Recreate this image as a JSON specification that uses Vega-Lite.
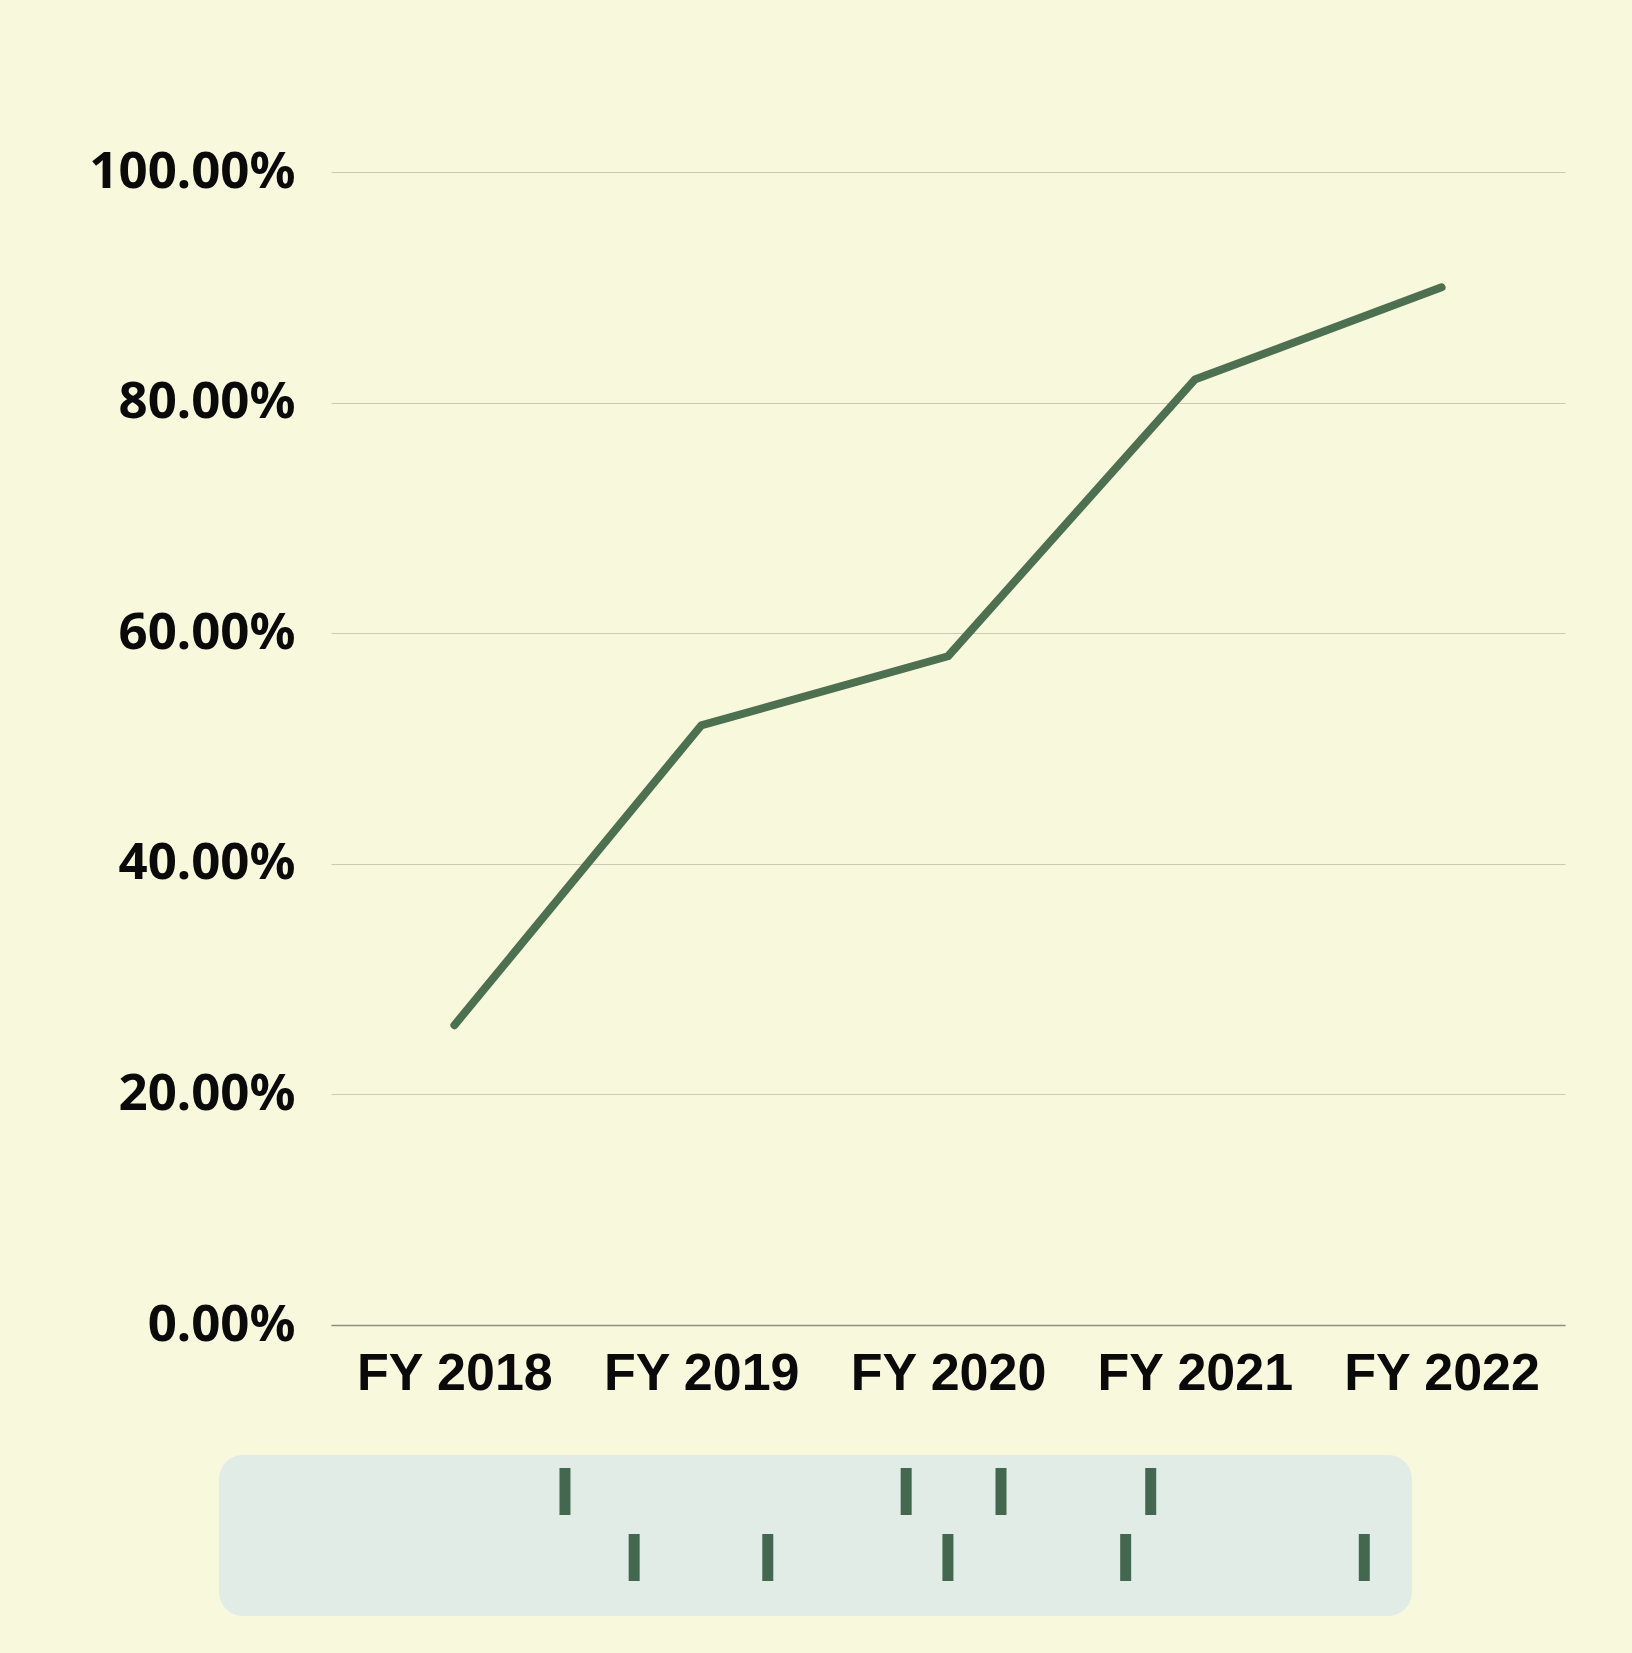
{
  "$schema": "https://vega.github.io/schema/vega-lite/v6.json",
  "background": "#F8F8DC",
  "padding": {"left": 40, "top": 146, "right": 67, "bottom": 38},
  "autosize": {"type": "pad"},
  "config": {"view": {"stroke": null}},
  "spacing": 30,
  "vconcat": [
    {
      "width": 1234,
      "height": 1153,
      "data": {"values": [
        {"year": "FY 2018", "share": 0.26},
        {"year": "FY 2019", "share": 0.52},
        {"year": "FY 2020", "share": 0.58},
        {"year": "FY 2021", "share": 0.82},
        {"year": "FY 2022", "share": 0.90}
      ]},
      "mark": {"type": "line", "color": "#4D7050", "strokeWidth": 8, "strokeCap": "round", "strokeJoin": "round"},
      "encoding": {
        "x": {
          "field": "year", "type": "ordinal", "sort": null,
          "scale": {"type": "point", "padding": 0.5},
          "axis": {
            "title": null, "labelAngle": 0, "ticks": false, "tickSize": 0,
            "labelPadding": 23, "labelBaseline": "top", "labelLimit": 0,
            "labelFont": "Liberation Sans", "labelFontSize": 52, "labelFontWeight": "bold", "labelColor": "#0A0A0A",
            "domain": true, "domainColor": "#8E8E78", "domainWidth": 1.5,
            "grid": false, "minExtent": 100, "maxExtent": 100
          }
        },
        "y": {
          "field": "share", "type": "quantitative",
          "scale": {"domain": [0, 1]},
          "axis": {
            "title": null, "values": [0, 0.2, 0.4, 0.6, 0.8, 1], "format": ".2%",
            "ticks": false, "tickSize": 0, "domain": false, "labelLimit": 0,
            "labelPadding": 36, "labelFont": "Noto Sans", "labelFontSize": 51, "labelFontWeight": "bold", "labelColor": "#0A0A0A",
            "grid": true, "gridColor": "#CBCBB2", "gridWidth": 1,
            "minExtent": 291, "maxExtent": 291
          }
        }
      }
    },
    {
      "width": 1081,
      "height": 161,
      "layer": [
        {
          "data": {"values": [{"start": 0, "end": 100}]},
          "mark": {"type": "rect", "color": "#E2ECE6", "cornerRadius": 24, "opacity": 1},
          "encoding": {
            "x": {"field": "start", "type": "quantitative", "scale": {"domain": [9.388, 100], "nice": false, "zero": false}, "axis": null},
            "x2": {"field": "end"}
          }
        },
        {
          "data": {"values": [
            {"pos": 29.0, "row": "top"},
            {"pos": 57.6, "row": "top"},
            {"pos": 65.55, "row": "top"},
            {"pos": 78.1, "row": "top"},
            {"pos": 34.8, "row": "bottom"},
            {"pos": 46.0, "row": "bottom"},
            {"pos": 61.1, "row": "bottom"},
            {"pos": 76.0, "row": "bottom"},
            {"pos": 96.0, "row": "bottom"}
          ]},
          "mark": {"type": "tick", "color": "#43684F", "thickness": 11, "size": 47, "opacity": 1},
          "encoding": {
            "x": {"field": "pos", "type": "quantitative", "scale": {"domain": [9.388, 100], "nice": false, "zero": false}, "axis": null},
            "y": {
              "field": "row", "type": "ordinal", "sort": ["top", "bottom"],
              "scale": {"type": "point", "range": [36.5, 102.5], "padding": 0},
              "axis": null
            }
          }
        }
      ]
    }
  ]
}
